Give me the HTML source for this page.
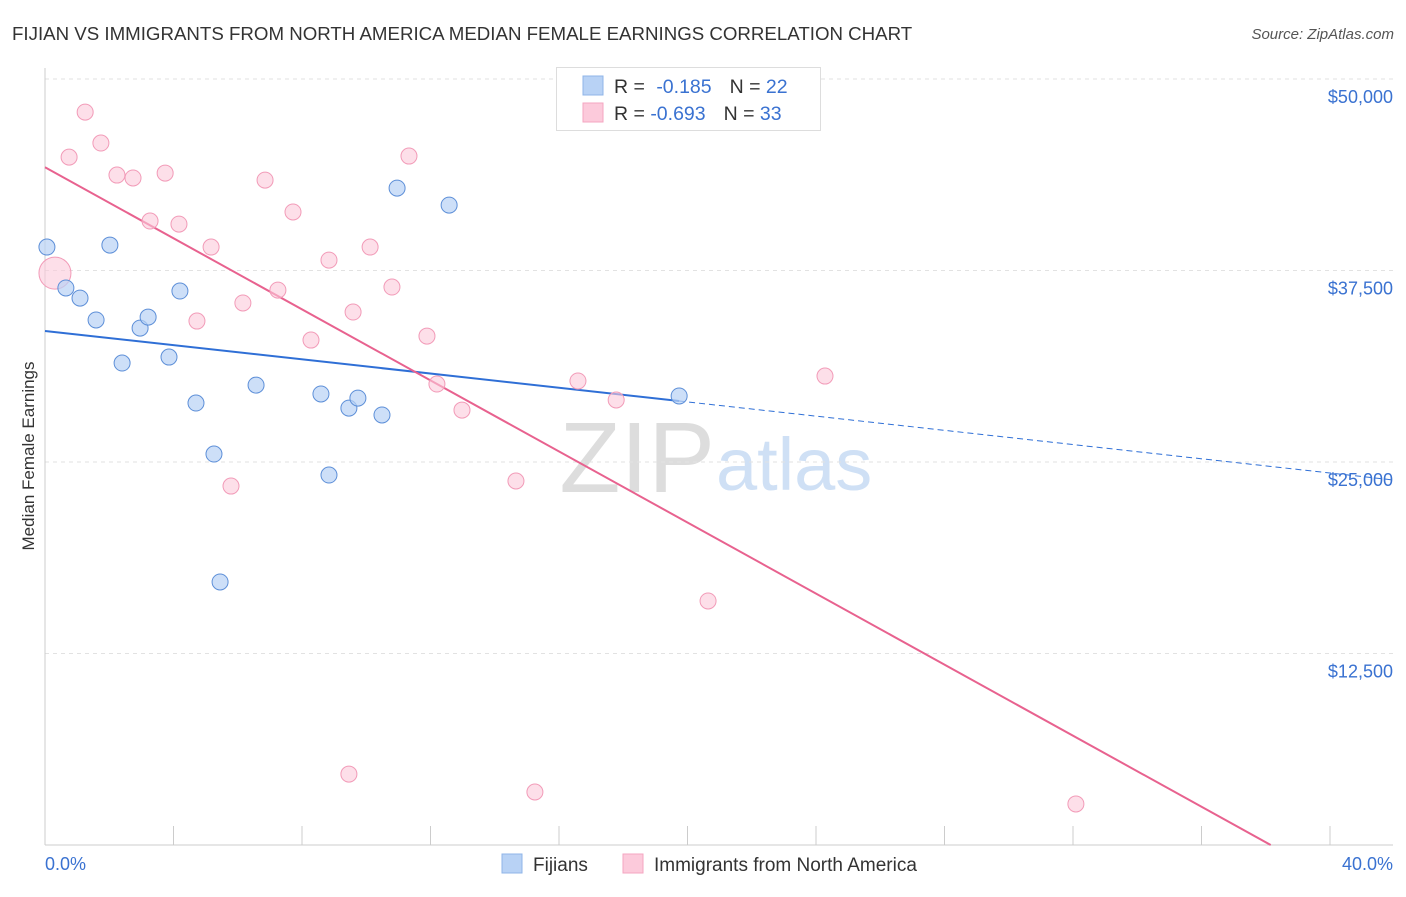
<!DOCTYPE html>
<html><head><meta charset="utf-8"><style>
body{margin:0;background:#fff;font-family:"Liberation Sans",sans-serif;}
svg text{font-family:"Liberation Sans",sans-serif;}
</style></head><body>
<svg id="chart" width="1406" height="892">
<text x="12" y="40" font-size="18.7" fill="#333">FIJIAN VS IMMIGRANTS FROM NORTH AMERICA MEDIAN FEMALE EARNINGS CORRELATION CHART</text>
<text x="1394" y="39" font-size="15" fill="#555" font-style="italic" text-anchor="end">Source: ZipAtlas.com</text>
<text x="715" y="492" font-size="100" fill="#ddd" text-anchor="end" font-family="Liberation Serif">ZIP</text>
<text x="716" y="490" font-size="74" fill="#cfe0f5">atlas</text>
<text x="34" y="456" font-size="17" fill="#333" text-anchor="middle" transform="rotate(-90 34 456)">Median Female Earnings</text>
<g id="grid"></g><g id="axes"></g><g id="lines"></g><g id="pts"></g>
<g>
<rect x="556.5" y="67.5" width="264" height="63" fill="#fff" stroke="#ddd"/>
<rect x="583" y="76" width="20" height="19" fill="#b8d2f5" stroke="#8fb4e8"/>
<rect x="583" y="103" width="20" height="19" fill="#fccadb" stroke="#f4a6c0"/>
<text x="614" y="93" font-size="19.5" fill="#333">R = <tspan fill="#3a72d1" dx="6">-0.185</tspan><tspan dx="18" fill="#333">N = </tspan><tspan fill="#3a72d1">22</tspan></text>
<text x="614" y="120" font-size="19.5" fill="#333">R = <tspan fill="#3a72d1">-0.693</tspan><tspan dx="18" fill="#333">N = </tspan><tspan fill="#3a72d1">33</tspan></text>
</g>
<g>
<rect x="502" y="854" width="20" height="19" fill="#b8d2f5" stroke="#8fb4e8"/>
<text x="533" y="871" font-size="19" fill="#333">Fijians</text>
<rect x="623" y="854" width="20" height="19" fill="#fccadb" stroke="#f4a6c0"/>
<text x="654" y="871" font-size="19" fill="#333">Immigrants from North America</text>
</g>
</svg>
<script>
const xTicks=[0,4,8,12,16,20,24,28,32,36,40];
const yTicks=[12500,25000,37500,50000];
const yTickLabels=["$12,500","$25,000","$37,500","$50,000"];
const fijiX=[0.06,0.65,1.09,1.59,2.02,2.40,2.96,3.21,3.86,4.20,4.70,5.26,5.45,6.57,8.59,8.84,9.46,9.74,10.49,10.96,12.58,19.74];
const fijiY=[39030,36360,35700,34270,39160,31460,33740,34460,31850,36160,28850,25520,17170,30020,29440,24150,28520,29170,28070,42880,41770,29310];
const immX=[0.31,0.75,1.25,1.74,2.24,2.74,3.27,3.74,4.17,4.73,5.17,5.79,6.16,6.85,7.25,7.72,8.28,8.84,9.46,9.59,10.12,10.80,11.33,11.89,12.20,12.98,14.66,15.25,16.59,17.78,20.64,24.28,32.09];
const immY=[37330,44900,47840,45820,43730,43540,40730,43860,40530,34200,39030,23430,35380,43400,36220,41320,32960,38180,4630,34790,39030,36420,44970,33220,30090,28390,23760,3460,30290,29050,15930,30610,2680];
const NS="http://www.w3.org/2000/svg";
const X=v=>45+v/40*1285, Y=v=>845-v/12500*191.5;
function mk(p,t,a){const e=document.createElementNS(NS,t);for(const k in a)e.setAttribute(k,a[k]);document.getElementById(p).appendChild(e);return e;}
yTicks.forEach((t,i)=>{
 let l=mk('grid','line',{x1:45,x2:1393,y1:Y(t),y2:Y(t),stroke:'#e2e2e2','stroke-dasharray':'4 4'});
 
 
 let tx=mk('grid','text',{x:1393,y:Y(t)+24,'font-size':18,fill:'#3a72d1','text-anchor':'end'});tx.textContent=yTickLabels[i];
 
 
});
mk('axes','line',{x1:45,x2:45,y1:68,y2:845,stroke:'#ccc'});
let xa=mk('axes','line',{x1:45,x2:1393,y1:845,y2:845,stroke:'#ccc'});


xTicks.forEach(t=>{if(t>0)mk('axes','line',{x1:X(t),x2:X(t),y1:826,y2:845,stroke:'#ccc'});});
let a=mk('axes','text',{x:45,y:870,'font-size':18,fill:'#3a72d1'});a.textContent='0.0%';


let b=mk('axes','text',{x:1393,y:870,'font-size':18,fill:'#3a72d1','text-anchor':'end'});b.textContent='40.0%';


function reg(xs,ys){const n=xs.length,mx=xs.reduce((s,v)=>s+v)/n,my=ys.reduce((s,v)=>s+v)/n;let sxy=0,sxx=0;xs.forEach((x,i)=>{sxy+=(x-mx)*(ys[i]-my);sxx+=(x-mx)**2});const m=sxy/sxx;return [my-m*mx,m];}
const [fb,fm]=reg(fijiX,fijiY);const fmax=Math.max(...fijiX);
let l1=mk('lines','line',{x1:X(0),y1:Y(fb),x2:X(fmax),y2:Y(fb+fm*fmax),stroke:'#2f6fd6','stroke-width':2});


let l2=mk('lines','line',{x1:X(fmax),y1:Y(fb+fm*fmax),x2:1393,y2:Y(fb+fm*42),stroke:'#2f6fd6','stroke-width':1,'stroke-dasharray':'6 4'});


const [ib,im]=reg(immX,immY);const xz=-ib/im;
let l3=mk('lines','line',{x1:X(0),y1:Y(ib),x2:X(xz),y2:Y(0),stroke:'#e8628f','stroke-width':2});


immX.forEach((x,i)=>{let c=mk('pts','circle',{cx:X(x),cy:Y(immY[i]),r:i==0?16:8,fill:'#fccadb','fill-opacity':0.6,stroke:'#f29bb8','stroke-width':1});
 
 });
fijiX.forEach((x,i)=>{let c=mk('pts','circle',{cx:X(x),cy:Y(fijiY[i]),r:8,fill:'#b8d2f5','fill-opacity':0.7,stroke:'#5d8fd8','stroke-width':1});
 
 });
</script>
</body></html>
